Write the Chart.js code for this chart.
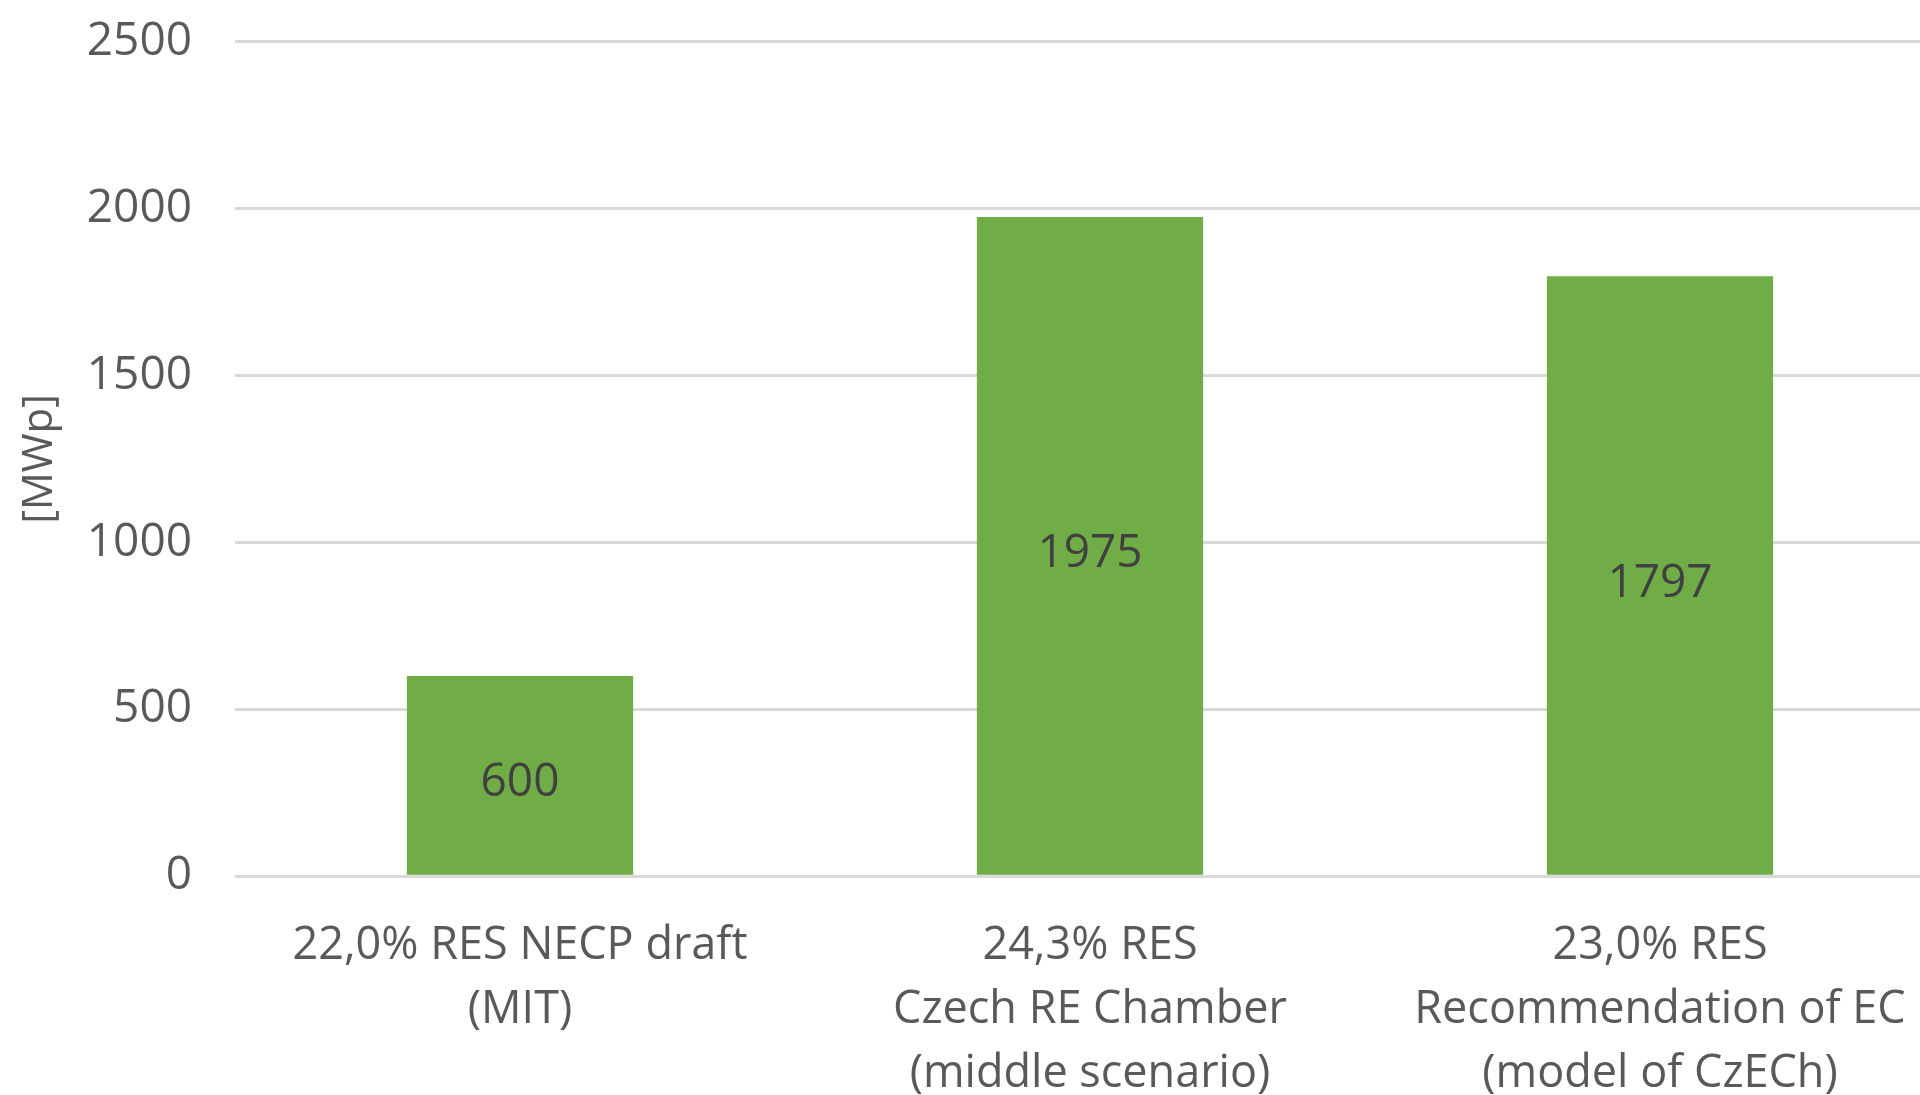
<!DOCTYPE html>
<html>
<head>
<meta charset="utf-8">
<script src="https://cdn.jsdelivr.net/npm/chart.js@4/dist/chart.umd.min.js"></script>
<style>
html,body{margin:0;padding:0;background:#fff;overflow:hidden;}
#wrap{width:1920px;height:1095px;overflow:hidden;position:relative;}
canvas{display:block;margin-top:-29px;}
</style>
</head>
<body>
<div id="wrap"><canvas id="c" width="1960" height="1173"></canvas></div>
<script>
const categories = [
  ["22,0% RES NECP draft", "(MIT)"],
  ["24,3% RES", "Czech RE Chamber", "(middle scenario)"],
  ["23,0% RES", "Recommendation of EC", "(model of CzECh)"]
];
const values = [600, 1975, 1797];
const yTicks = [0, 500, 1000, 1500, 2000, 2500];
const yTitle = "[MWp]";

const FONT = "'Open Sans', 'Segoe UI', 'DejaVu Sans', sans-serif";

const centerLabels = {
  id: 'centerLabels',
  afterDatasetsDraw(chart) {
    const ctx = chart.ctx;
    const meta = chart.getDatasetMeta(0);
    ctx.save();
    ctx.font = "46px " + FONT;
    ctx.fillStyle = "#404040";
    ctx.textAlign = "center";
    ctx.textBaseline = "middle";
    meta.data.forEach((bar, i) => {
      const y = (bar.y + bar.base) / 2;
      ctx.fillText(String(chart.data.datasets[0].data[i]), bar.x, y + 8);
    });
    ctx.restore();
  }
};

new Chart(document.getElementById('c'), {
  type: 'bar',
  data: {
    labels: categories,
    datasets: [{
      data: values,
      backgroundColor: '#70ad47',
      borderWidth: 0,
      barPercentage: 1.0,
      categoryPercentage: 0.397
    }]
  },
  options: {
    responsive: false,
    animation: false,
    devicePixelRatio: 1,
    layout: { padding: { top: 10, right: 15, bottom: 0, left: 0 } },
    plugins: { legend: { display: false }, tooltip: { enabled: false } },
    scales: {
      x: {
        grid: { display: false, drawTicks: false },
        border: { display: false },
        ticks: {
          color: '#595959',
          font: { family: FONT, size: 45, lineHeight: 1.42 },
          padding: 38,
          maxRotation: 0,
          autoSkip: false
        }
      },
      y: {
        min: 0,
        max: 2500,
        afterFit(scale) { scale.width = 235; },
        afterBuildTicks(scale) { scale.ticks = yTicks.map(v => ({ value: v })); },
        grid: { color: '#d9d9d9', lineWidth: 3, drawTicks: false },
        border: { display: false },
        ticks: {
          color: '#595959',
          font: { family: FONT, size: 46 },
          padding: 43,
          callback: (v) => String(v)
        },
        title: {
          display: true,
          text: yTitle,
          color: '#595959',
          font: { family: FONT, size: 42, lineHeight: 1.2 },
          padding: { top: 15, bottom: 0 }
        }
      }
    }
  },
  plugins: [centerLabels]
});
</script>
</body>
</html>
